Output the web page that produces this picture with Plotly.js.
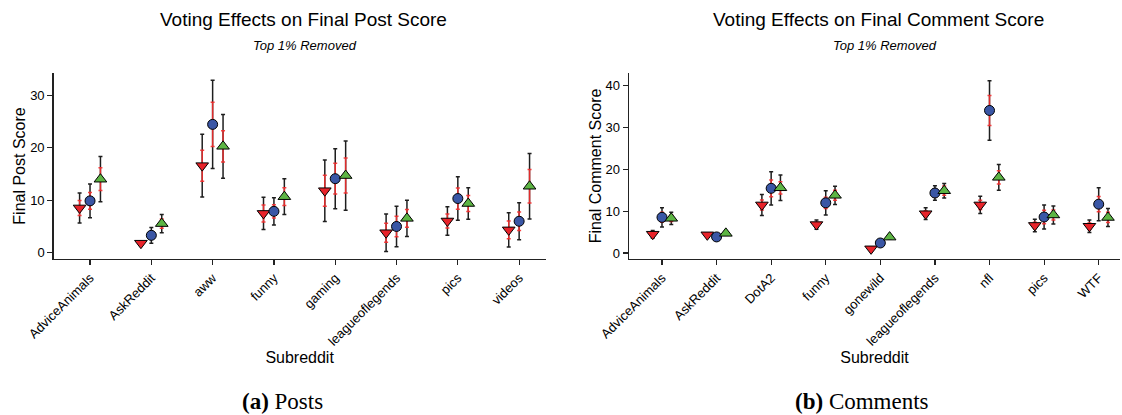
<!DOCTYPE html>
<html>
<head>
<meta charset="utf-8">
<script src="https://cdn.plot.ly/plotly-3.0.1.min.js"></script>
<style>html,body{margin:0;padding:0;background:#fff;}#chart{width:1122px;height:415px;}</style>
</head>
<body>
<div id="chart"></div>
<script>
// ---------- Posts (panel a) ----------
const postCats = ["AdviceAnimals","AskReddit","aww","funny","gaming","leagueoflegends","pics","videos"];
const postDown      = [8.5, 1.75, 16.6, 7.45, 11.8, 3.75, 6.0, 4.3];
const postDownCI    = [2.88, 0.3, 6.0, 3.1, 5.9, 3.58, 2.72, 3.3];
const postDownSE    = [1.43, 0.15, 2.97, 1.63, 2.97, 1.82, 1.32, 1.69];
const postCtrl      = [9.85, 3.25, 24.5, 7.85, 14.1, 4.95, 10.3, 5.95];
const postCtrlCI    = [3.23, 1.5, 8.43, 2.62, 5.75, 3.87, 4.15, 3.54];
const postCtrlSE    = [1.6, 0.73, 4.25, 1.28, 2.94, 1.98, 2.04, 1.79];
const postUp        = [14.0, 5.5, 20.3, 10.65, 14.7, 6.5, 9.35, 12.65];
const postUpCI      = [4.34, 1.76, 6.1, 3.42, 6.64, 3.48, 3.0, 6.26];
const postUpSE      = [2.18, 0.89, 3.0, 1.7, 3.35, 1.7, 1.54, 3.19];

// ---------- Comments (panel b) ----------
const comCats = ["AdviceAnimals","AskReddit","DotA2","funny","gonewild","leagueoflegends","nfl","pics","WTF"];
const comDown      = [4.5, 4.35, 11.5, 6.8, 1.0, 9.4, 11.5, 6.6, 6.4];
const comDownCI    = [0.9, 0.4, 2.51, 1.1, 0.3, 1.4, 2.08, 1.5, 1.5];
const comDownSE    = [0.45, 0.2, 1.2, 0.55, 0.15, 0.7, 1.12, 0.75, 0.75];
const comCtrl      = [8.53, 3.85, 15.47, 12.0, 2.4, 14.35, 34.1, 8.61, 11.68];
const comCtrlCI    = [2.31, 0.5, 3.99, 2.9, 0.35, 1.75, 7.1, 2.87, 3.95];
const comCtrlSE    = [1.2, 0.25, 2.0, 1.36, 0.2, 0.95, 3.6, 1.6, 1.84];
const comUp        = [8.3, 4.7, 15.6, 13.8, 3.8, 14.9, 18.1, 9.1, 8.5];
const comUpCI      = [1.47, 0.4, 3.03, 2.19, 0.4, 1.72, 3.08, 2.15, 2.16];
const comUpSE      = [0.77, 0.2, 1.47, 1.2, 0.2, 1.1, 1.6, 1.2, 1.23];

const RED = "#e8232a", BLUE = "#3a56a5", GREEN = "#5db544";
const ERR_BLACK = "#1e1e1e", ERR_RED = "rgba(245,45,45,0.9)";
const OFFSET = 0.17;

function seriesTraces(cats, vals, ci, se, offset, symbol, color, xa, ya) {
  const xs = cats.map((c, i) => i + offset);
  const base = {type: "scatter", mode: "markers", x: xs, y: vals, xaxis: xa, yaxis: ya, showlegend: false, hoverinfo: "skip"};
  return [
    Object.assign({}, base, {
      marker: {size: 1, color: "rgba(0,0,0,0)"},
      error_y: {type: "data", array: ci, visible: true, color: ERR_BLACK, thickness: 1.5, width: 2}
    }),
    Object.assign({}, base, {
      marker: {size: symbol === "circle" ? 10 : 11, symbol: symbol, color: color, line: {color: "#000", width: 1}},
      error_y: {type: "data", array: se, visible: true, color: ERR_RED, thickness: 1.5, width: 2}
    })
  ];
}

const data = [].concat(
  seriesTraces(postCats, postDown, postDownCI, postDownSE, -OFFSET, "triangle-down", RED, "x", "y"),
  seriesTraces(postCats, postCtrl, postCtrlCI, postCtrlSE, 0, "circle", BLUE, "x", "y"),
  seriesTraces(postCats, postUp, postUpCI, postUpSE, OFFSET, "triangle-up", GREEN, "x", "y"),
  seriesTraces(comCats, comDown, comDownCI, comDownSE, -OFFSET, "triangle-down", RED, "x2", "y2"),
  seriesTraces(comCats, comCtrl, comCtrlCI, comCtrlSE, 0, "circle", BLUE, "x2", "y2"),
  seriesTraces(comCats, comUp, comUpCI, comUpSE, OFFSET, "triangle-up", GREEN, "x2", "y2")
);

const FONT = "Liberation Sans, Arial, sans-serif";
const SERIF = "Liberation Serif, Times New Roman, serif";

function xAxis(cats, domain, range) {
  return {
    domain: domain, range: range, tickmode: "array",
    tickvals: cats.map((c, i) => i), ticktext: cats, tickangle: -45,
    tickfont: {family: FONT, size: 13, color: "#000"},
    ticks: "outside", ticklen: 5, tickwidth: 1.2, tickcolor: "#222",
    showline: true, linecolor: "#222", linewidth: 1.3,
    showgrid: false, zeroline: false, automargin: false,
    title: {text: "Subreddit", font: {family: FONT, size: 16, color: "#000"}, standoff: 0}
  };
}
function yAxis(title, range, anchor) {
  return {
    range: range, tickmode: "linear", tick0: 0, dtick: 10, anchor: anchor,
    tickfont: {family: FONT, size: 13, color: "#000"},
    ticks: "outside", ticklen: 5, tickwidth: 1.2, tickcolor: "#222",
    showline: true, linecolor: "#222", linewidth: 1.3,
    showgrid: false, zeroline: false, automargin: false,
    title: {text: title, font: {family: FONT, size: 16, color: "#000"}, standoff: 0}
  };
}

const layout = {
  width: 1122, height: 415,
  margin: {l: 0, r: 0, t: 73, b: 156},
  paper_bgcolor: "#fff", plot_bgcolor: "#fff",
  showlegend: false,
  xaxis: Object.assign(xAxis(postCats, [0.0477, 0.4864], [-0.5955, 7.434]), {anchor: "y"}),
  yaxis: yAxis("Final Post Score", [-1.28, 34.34], "x"),
  xaxis2: Object.assign(xAxis(comCats, [0.5606, 0.9982], [-0.6045, 8.39]), {anchor: "y2"}),
  yaxis2: yAxis("Final Comment Score", [-1.435, 43.06], "x2"),
  annotations: [
    {text: "Voting Effects on Final Post Score", xref: "paper", yref: "paper", x: 0.2707, y: 1.285, showarrow: false, xanchor: "center", yanchor: "middle", font: {family: FONT, size: 19, color: "#000"}},
    {text: "<i>Top 1% Removed</i>", xref: "paper", yref: "paper", x: 0.2718, y: 1.1505, showarrow: false, xanchor: "center", yanchor: "middle", font: {family: FONT, size: 13, color: "#000"}},
    {text: "Voting Effects on Final Comment Score", xref: "paper", yref: "paper", x: 0.7834, y: 1.285, showarrow: false, xanchor: "center", yanchor: "middle", font: {family: FONT, size: 19, color: "#000"}},
    {text: "<i>Top 1% Removed</i>", xref: "paper", yref: "paper", x: 0.7888, y: 1.1505, showarrow: false, xanchor: "center", yanchor: "middle", font: {family: FONT, size: 13, color: "#000"}},
    {text: "<b>(a)</b> Posts", xref: "paper", yref: "paper", x: 0.252, y: -0.765, showarrow: false, xanchor: "center", yanchor: "middle", font: {family: SERIF, size: 23, color: "#000"}},
    {text: "<b>(b)</b> Comments", xref: "paper", yref: "paper", x: 0.7679, y: -0.765, showarrow: false, xanchor: "center", yanchor: "middle", font: {family: SERIF, size: 23, color: "#000"}}
  ]
};

Plotly.newPlot("chart", data, layout, {displayModeBar: false, staticPlot: true});
</script>
</body>
</html>
